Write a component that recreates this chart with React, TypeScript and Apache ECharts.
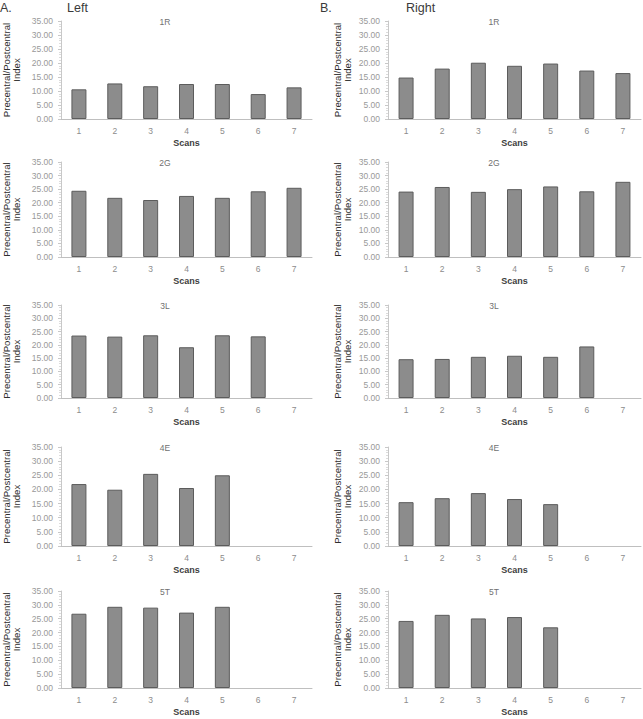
import React, { useEffect, useRef } from "react";
import * as echarts from "echarts";

const scans = ["1", "2", "3", "4", "5", "6", "7"];
const yTicks = [0, 5, 10, 15, 20, 25, 30, 35];
const panelNames = ["1R", "2G", "3L", "4E", "5T"];

const left1R = [10.6, 12.7, 11.7, 12.5, 12.5, 8.9, 11.3];
const left2G = [24.4, 21.8, 21.0, 22.5, 21.8, 24.2, 25.5];
const left3L = [23.5, 23.1, 23.6, 19.1, 23.6, 23.2, null];
const left4E = [21.9, 19.9, 25.5, 20.5, 25.0, null, null];
const left5T = [26.8, 29.3, 29.0, 27.2, 29.3, null, null];

const right1R = [14.8, 18.0, 20.1, 19.0, 19.8, 17.3, 16.4];
const right2G = [24.1, 25.8, 24.0, 25.0, 26.0, 24.2, 27.7];
const right3L = [14.6, 14.7, 15.5, 15.9, 15.5, 19.4, null];
const right4E = [15.5, 16.9, 18.7, 16.6, 14.8, null, null];
const right5T = [24.2, 26.4, 25.1, 25.6, 21.9, null, null];

const leftSeries = [left1R, left2G, left3L, left4E, left5T];
const rightSeries = [right1R, right2G, right3L, right4E, right5T];

const rows = [
  { top: 21, bottom: 119 },
  { top: 162, bottom: 257 },
  { top: 305, bottom: 398 },
  { top: 447, bottom: 546 },
  { top: 591, bottom: 688 },
];

const FONT = "Liberation Sans, Arial, sans-serif";

export default function App() {
  const ref = useRef<HTMLDivElement>(null);
  useEffect(() => {
    document.body.style.margin = "0";
    if (!ref.current) return;
    const chart = echarts.init(ref.current, null, { renderer: "svg" });
    const grids: any[] = [];
    const xAxes: any[] = [];
    const yAxes: any[] = [];
    const series: any[] = [];
    const head = { fontFamily: FONT, fontSize: 12.5, fontWeight: "normal", color: "#3a3a3a" };
    const titles: any[] = [
      { text: "A.", left: 0, top: 1, padding: 0, textStyle: head },
      { text: "Left", left: 67, top: 1, padding: 0, textStyle: head },
      { text: "B.", left: 320, top: 1, padding: 0, textStyle: head },
      { text: "Right", left: 406, top: 1, padding: 0, textStyle: head },
    ];
    const sides = [
      { data: leftSeries, left: 60, width: 252, titleX: 165, nameGap: 40 },
      { data: rightSeries, left: 388, width: 253, titleX: 494, nameGap: 36 },
    ];
    let idx = 0;
    sides.forEach((side) => {
      rows.forEach((row, r) => {
        grids.push({ left: side.left, width: side.width, top: row.top, height: row.bottom - row.top });
        xAxes.push({
          type: "category",
          gridIndex: idx,
          data: scans,
          name: "Scans",
          nameLocation: "middle",
          nameGap: 19,
          nameTextStyle: { fontFamily: FONT, fontSize: 9, fontWeight: "bold", color: "#404040" },
          axisLine: { lineStyle: { color: "#bfbfbf", width: 1 } },
          axisTick: { show: false },
          axisLabel: { fontFamily: FONT, fontSize: 8.5, color: "#8c8c8c", margin: 7 },
          splitLine: { show: false },
        });
        yAxes.push({
          type: "value",
          gridIndex: idx,
          min: 0,
          max: 35,
          interval: 5,
          name: "Precentral/Postcentral\nIndex",
          nameLocation: "middle",
          nameRotate: 90,
          nameGap: side.nameGap,
          nameTextStyle: { fontFamily: FONT, fontSize: 9.6, fontWeight: "normal", color: "#2e2e2e", lineHeight: 10 },
          axisLine: { show: true, lineStyle: { color: "#c8c8c8", width: 1 } },
          axisTick: { show: true, length: 3, lineStyle: { color: "#c8c8c8" } },
          minorTick: { show: true, splitNumber: 5, length: 2, lineStyle: { color: "#dcdcdc" } },
          axisLabel: {
            fontFamily: FONT,
            fontSize: 8.5,
            color: "#999999",
            margin: 8,
            formatter: (v: number) => (yTicks.includes(v) ? v.toFixed(2) : ""),
          },
          splitLine: { show: false },
        });
        series.push({
          type: "bar",
          xAxisIndex: idx,
          yAxisIndex: idx,
          data: side.data[r].map((v) => (v === null ? "-" : v)),
          barWidth: 15,
          itemStyle: { color: "#8c8c8c", borderColor: "#5c5c5c", borderWidth: 1 },
        });
        titles.push({
          text: panelNames[r],
          left: side.titleX,
          top: row.top - 4,
          textAlign: "center",
          padding: 0,
          textStyle: { fontFamily: FONT, fontSize: 8.5, fontWeight: "normal", color: "#707070" },
        });
        idx++;
      });
    });
    chart.setOption({
      animation: false,
      backgroundColor: "#ffffff",
      title: titles,
      grid: grids,
      xAxis: xAxes,
      yAxis: yAxes,
      series,
    });
    return () => chart.dispose();
  }, []);
  return <div ref={ref} style={{ width: 643, height: 719 }} />;
}
